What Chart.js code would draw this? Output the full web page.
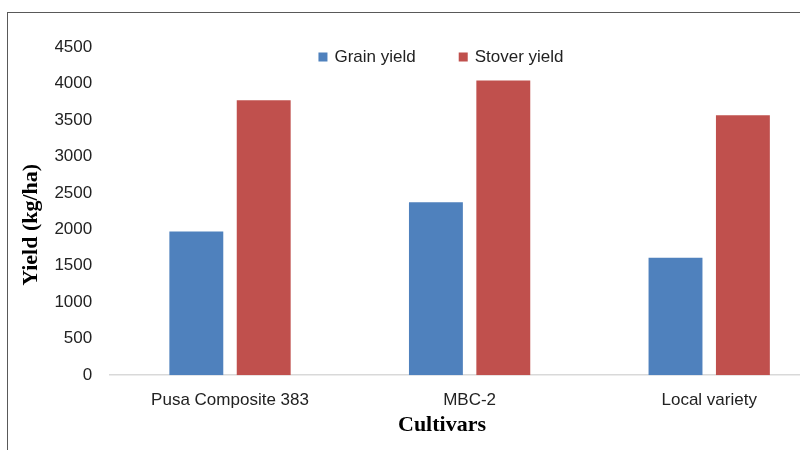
<!DOCTYPE html>
<html>
<head>
<meta charset="utf-8">
<script src="https://cdn.jsdelivr.net/npm/chart.js@4.4.1/dist/chart.umd.min.js"></script>
<style>
  html, body { margin: 0; padding: 0; background: #fff; overflow: hidden; }
  #frame { position: absolute; left: 7px; top: 12px; width: 900px; height: 500px; border: 1px solid #595959; }
  #wrap { position: absolute; left: 0; top: 0; width: 860px; height: 430px; }
</style>
</head>
<body>
<div id="frame"><div id="wrap"><canvas id="myChart"></canvas></div></div>
<script>
// values
const cultivars = ['Pusa Composite 383', 'MBC-2', 'Local variety']
const grainYield = [1970, 2370, 1610]
const stoverYield = [3770, 4040, 3565]
const yTicks = [0, 500, 1000, 1500, 2000, 2500, 3000, 3500, 4000, 4500]

const tickFont = { family: 'Liberation Sans', size: 17 }
const titleFont = { family: 'Liberation Serif', size: 22, weight: 'bold' }

// legend sits inside the plot area in the reference, so draw it by hand
const insideLegend = {
  id: 'insideLegend',
  afterDraw(chart) {
    const ctx = chart.ctx
    const box = 9, gap = 7, itemGap = 43, centerX = 433, y = 44
    ctx.save()
    ctx.font = '17px "Liberation Sans"'
    ctx.textBaseline = 'middle'
    const sets = chart.data.datasets
    let total = 0
    sets.forEach(function(ds, i) {
      total += box + gap + ctx.measureText(ds.label).width
      if (i > 0) total += itemGap
    })
    let x = centerX - total / 2
    sets.forEach(function(ds) {
      ctx.fillStyle = ds.backgroundColor
      ctx.fillRect(x, y - box / 2, box, box)
      x += box + gap
      ctx.fillStyle = '#222'
      ctx.fillText(ds.label, x, y)
      x += ctx.measureText(ds.label).width + itemGap
    })
    ctx.restore()
  }
}

const ctx = document.getElementById('myChart')
const myChart = new Chart(ctx, {
  type: 'bar',
  data: {
    labels: cultivars,
    datasets: [{
      label: 'Grain yield',
      data: grainYield,
      backgroundColor: '#4f81bd'
    }, {
      label: 'Stover yield',
      data: stoverYield,
      backgroundColor: '#c0504d'
    }]
  },
  options: {
    responsive: true,
    maintainAspectRatio: false,
    animation: false,
    categoryPercentage: 0.5625,
    barPercentage: 0.8,
    layout: { padding: { left: 47, right: 39, top: 34, bottom: 4 } },
    plugins: {
      legend: { display: false },
      tooltip: { enabled: false },
      title: {
        display: true,
        position: 'bottom',
        text: 'Cultivars',
        color: '#000',
        font: titleFont,
        padding: { top: -13, bottom: 0 }
      }
    },
    scales: {
      x: {
        grid: { display: false, drawTicks: false },
        border: { display: true, color: '#d9d9d9', width: 1.5 },
        ticks: { color: '#222', font: tickFont, padding: 15, maxRotation: 0 }
      },
      y: {
        min: 0,
        max: 4500,
        grid: { display: false, drawTicks: false },
        border: { display: false },
        afterBuildTicks: function(axis) {
          axis.ticks = yTicks.map(function(v) { return { value: v } })
        },
        ticks: {
          color: '#222',
          font: tickFont,
          padding: 18,
          callback: function(v) { return String(v) }
        },
        title: {
          display: true,
          text: 'Yield (kg/ha)     ',
          color: '#000',
          font: titleFont,
          padding: { top: -37, bottom: -8 }
        }
      }
    }
  },
  plugins: [insideLegend]
})
</script>
</body>
</html>
